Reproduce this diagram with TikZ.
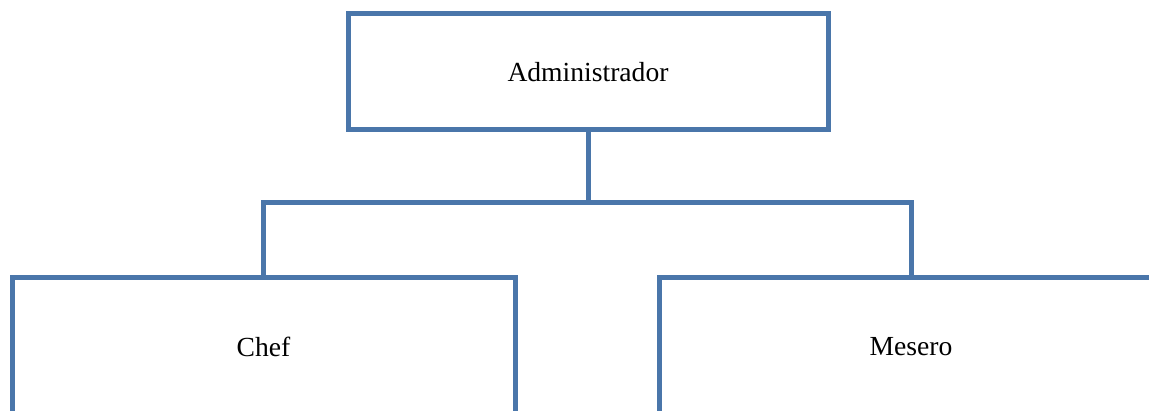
\documentclass[tikz,border=0pt]{standalone}
\usepackage{fontspec}
\setmainfont{Liberation Serif}
\usetikzlibrary{positioning}
\definecolor{cajaazul}{RGB}{74,118,170}
\tikzset{
  puesto/.style={draw=cajaazul, line width=2.5pt, fill=white, inner sep=0pt,
    font=\fontsize{13.8}{16}\selectfont},
  enlace/.style={draw=cajaazul, line width=2.5pt}
}

\begin{document}
\begin{tikzpicture}[x=0.5pt,y=-0.5pt]
    \useasboundingbox (0,0) rectangle (1149,411);
    \clip (0,0) rectangle (1149,411);
    \node[puesto, minimum width=240pt, minimum height=58pt] (admin) at (588,72) {Administrador};% top box
    \node[puesto, minimum width=251.5pt, minimum height=70pt] (chef) at (263.5,347) {Chef};
    \node[puesto, minimum width=252pt, minimum height=70pt] (mesero) at (911,347) {Mesero};
    \coordinate (bus) at (admin.south |- 0,203);% meeting point of the lines
    \draw[enlace] (admin.south) -- (bus);
    \draw[enlace] (bus) -| (chef.north);
    \draw[enlace] (bus) -| (mesero.north);
\end{tikzpicture}
\end{document}
